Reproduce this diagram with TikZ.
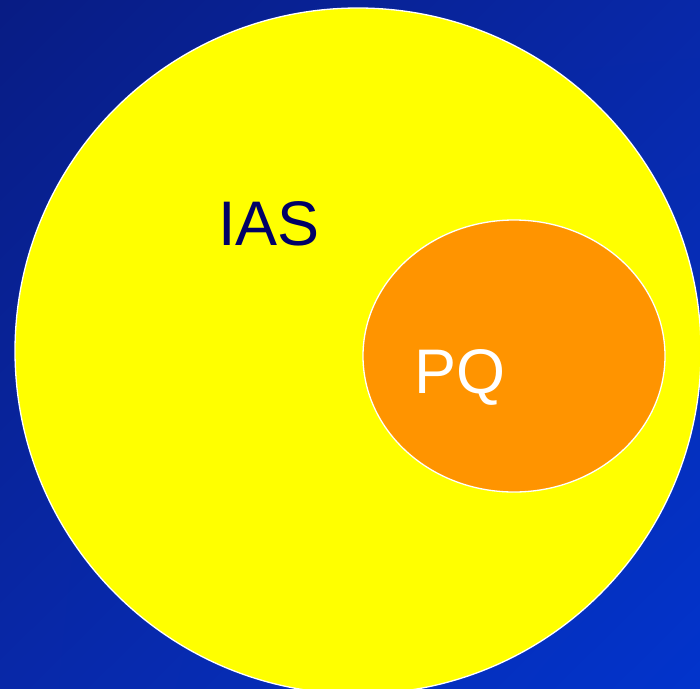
\documentclass[tikz,border=0pt]{standalone}
\usepackage{fontspec}
\setmainfont{Liberation Sans}
\usetikzlibrary{shapes.geometric, positioning, shadings}
\definecolor{bgdark}{RGB}{8,28,132}
\definecolor{bgmid}{RGB}{8,40,168}
\definecolor{bgbright}{RGB}{2,52,204}
\definecolor{setyellow}{RGB}{255,255,0}
\definecolor{setorange}{RGB}{255,148,0}
\definecolor{navytext}{RGB}{0,0,102}
\tikzset{
  setshape/.style={draw=white, line width=1.3pt, inner sep=0pt},
  outerset/.style={setshape, circle, fill=setyellow, minimum size=686pt},
  innerset/.style={setshape, ellipse, fill=setorange, minimum width=302pt, minimum height=272pt},
  setlabel/.style={font=\fontsize{63}{68}\selectfont, inner sep=0pt}
}
\begin{document}
\begin{tikzpicture}[x=1pt, y=-1pt]
  % background
  \useasboundingbox (0,0) rectangle (700,688);
  \shade[upper left=bgdark, upper right=bgmid, lower left=bgmid, lower right=bgbright]
        (0,0) rectangle (700,688);
  \clip (0,0) rectangle (700,688);

  % sets
  \node[outerset] (ias) at (358,351) {};
  \node[innerset] (pq) at (514,356) {};

  % labels
  \node[setlabel, text=navytext] (iaslabel) at (269,224) {IAS};
  \node[setlabel, text=white] (pqlabel) at (460,377) {PQ};
\end{tikzpicture}
\end{document}
